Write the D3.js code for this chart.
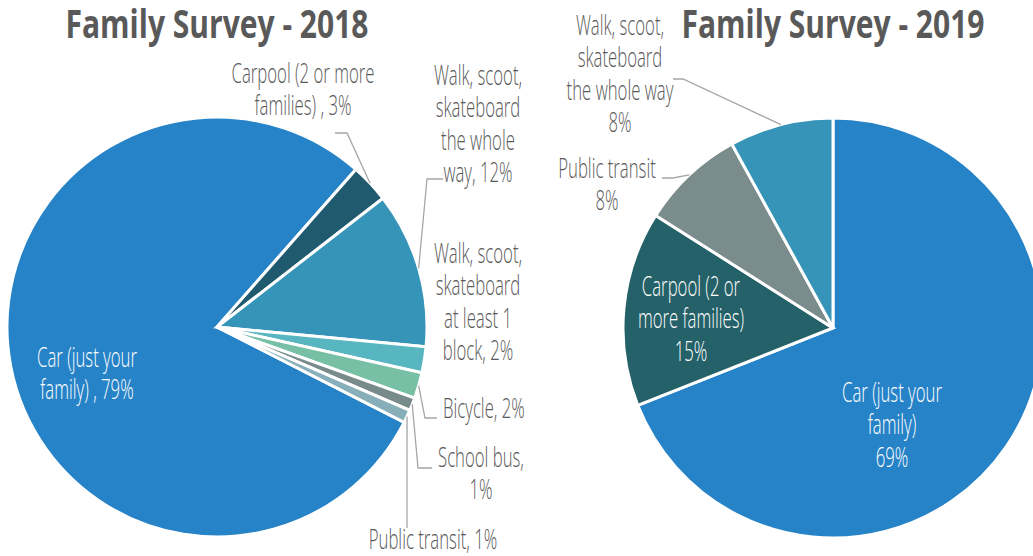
<!DOCTYPE html>
<html>
<head>
<meta charset="utf-8">
<script src="https://cdn.jsdelivr.net/npm/d3@7"></script>
<style>
  html, body { margin: 0; padding: 0; background: #ffffff; }
  svg { display: block; }
</style>
</head>
<body>
<svg id="chart" width="1033" height="556"></svg>
<script>
// ---- Survey data: how students get to school ----
const categories2018 = [
  "Car (just your family)",
  "Carpool (2 or more families)",
  "Walk, scoot, skateboard the whole way",
  "Walk, scoot, skateboard at least 1 block",
  "Bicycle",
  "School bus",
  "Public transit"
];
const values2018 = [79, 3, 12, 2, 2, 1, 1];
// label lines; {p} is replaced by the slice's percentage
const labelLines2018 = [
  ["Car (just your", "family) , {p}"],
  ["Carpool (2 or more", "families) , {p}"],
  ["Walk, scoot,", "skateboard", "the whole", "way, {p}"],
  ["Walk, scoot,", "skateboard", "at least 1", "block, {p}"],
  ["Bicycle, {p}"],
  ["School bus,", "{p}"],
  ["Public transit, {p}"]
];
const colors2018 = ["#2783c7", "#205a6f", "#3594b8", "#57b6c0", "#77c0a6", "#788b8b", "#87afb9"];

const categories2019 = [
  "Car (just your family)",
  "Carpool (2 or more families)",
  "Public transit",
  "Walk, scoot, skateboard the whole way"
];
const values2019 = [69, 15, 8, 8];
const labelLines2019 = [
  ["Car (just your", "family)", "{p}"],
  ["Carpool (2 or", "more families)", "{p}"],
  ["Public transit", "{p}"],
  ["Walk, scoot,", "skateboard", "the whole way", "{p}"]
];
const colors2019 = ["#2783c7", "#256168", "#7a8c8c", "#3594b8"];

// ---- layout ----
const TEXT_GRAY = "#595959";
const LEADER_GRAY = "#a6a6a6";
const LABEL_SIZE = 27;
const LINE_H = 32.5;
const LABEL_SQUEEZE = 0.62;   // narrow the label face horizontally
const TITLE_SQUEEZE = 0.77;

// label placement relative to each pie centre, plus optional leader bends
const layout2018 = [
  { x: -130, y: 40,   anchor: "middle", fill: "#ffffff" },
  { x: 86,   y: -244, anchor: "middle", leader: [[130, -194], [118, -194]] },
  { x: 261,  y: -242, anchor: "middle", leader: [[210, -148], [226, -148]] },
  { x: 261,  y: -64,  anchor: "middle" },
  { x: 226,  y: 91,   anchor: "start",  leader: [[208, 91], [220, 91]] },
  { x: 264,  y: 140,  anchor: "middle", leader: [[201, 141], [215, 141]] },
  { x: 216,  y: 222,  anchor: "middle", leader: [[190, 201]] }
];
const layout2019 = [
  { x: 59,   y: 74,   anchor: "middle", fill: "#ffffff" },
  { x: -142, y: -32,  anchor: "middle", fill: "#ffffff" },
  { x: -226, y: -150, anchor: "middle", leader: [[-160, -150], [-171, -150]] },
  { x: -213, y: -293, anchor: "middle", leader: [[-150, -249], [-160, -249]] }
];

const pies = [
  { title: "Family Survey - 2018", cx: 217, cy: 327, r: 210, start: 117,
    cats: categories2018, values: values2018, lines: labelLines2018, colors: colors2018, layout: layout2018 },
  { title: "Family Survey - 2019", cx: 833, cy: 328, r: 210, start: 0,
    cats: categories2019, values: values2019, lines: labelLines2019, colors: colors2019, layout: layout2019 }
];

const svg = d3.select("#chart");
const deg = Math.PI / 180;

pies.forEach(p => {
  const g = svg.append("g").attr("transform", `translate(${p.cx},${p.cy})`);

  const pieData = d3.pie().sort(null).value(d => d.v)
    .startAngle(p.start * deg)
    .endAngle(p.start * deg + 2 * Math.PI)(p.values.map((v, i) => ({ v, i, name: p.cats[i] })));

  const arc = d3.arc().innerRadius(0).outerRadius(p.r);

  g.selectAll("path.slice")
    .data(pieData)
    .join("path")
    .attr("class", "slice")
    .attr("d", arc)
    .attr("fill", d => p.colors[d.data.i])
    .attr("stroke", "#ffffff")
    .attr("stroke-width", 3)
    .attr("stroke-linejoin", "miter");

  // leader lines from the slice rim to the label
  pieData.forEach(d => {
    const L = p.layout[d.data.i];
    if (!L.leader) return;
    const mid = (d.startAngle + d.endAngle) / 2;
    const rim = [Math.sin(mid) * p.r, -Math.cos(mid) * p.r];
    g.append("path")
      .attr("d", d3.line()([rim, ...L.leader]))
      .attr("fill", "none")
      .attr("stroke", LEADER_GRAY)
      .attr("stroke-width", 1.3);
  });

  // slice labels
  pieData.forEach(d => {
    const L = p.layout[d.data.i];
    const pct = d.data.v + "%";
    const lg = g.append("g")
      .attr("transform", `translate(${L.x},${L.y}) scale(${LABEL_SQUEEZE},1)`);
    const t = lg.append("text")
      .attr("text-anchor", L.anchor)
      .attr("font-family", "'Open Sans', 'Noto Sans', sans-serif")
      .attr("font-weight", 300)
      .attr("font-size", LABEL_SIZE)
      .attr("fill", L.fill || TEXT_GRAY);
    p.lines[d.data.i].forEach((line, k) => {
      t.append("tspan")
        .attr("x", 0)
        .attr("y", k * LINE_H)
        .text(line.replace("{p}", pct));
    });
  });

  // title
  svg.append("g")
    .attr("transform", `translate(${p.cx},38) scale(${TITLE_SQUEEZE},1)`)
    .append("text")
    .attr("text-anchor", "middle")
    .attr("font-family", "'Open Sans', 'Noto Sans', sans-serif")
    .attr("font-weight", 700)
    .attr("font-size", 39)
    .attr("fill", TEXT_GRAY)
    .text(p.title);
});
</script>
</body>
</html>
